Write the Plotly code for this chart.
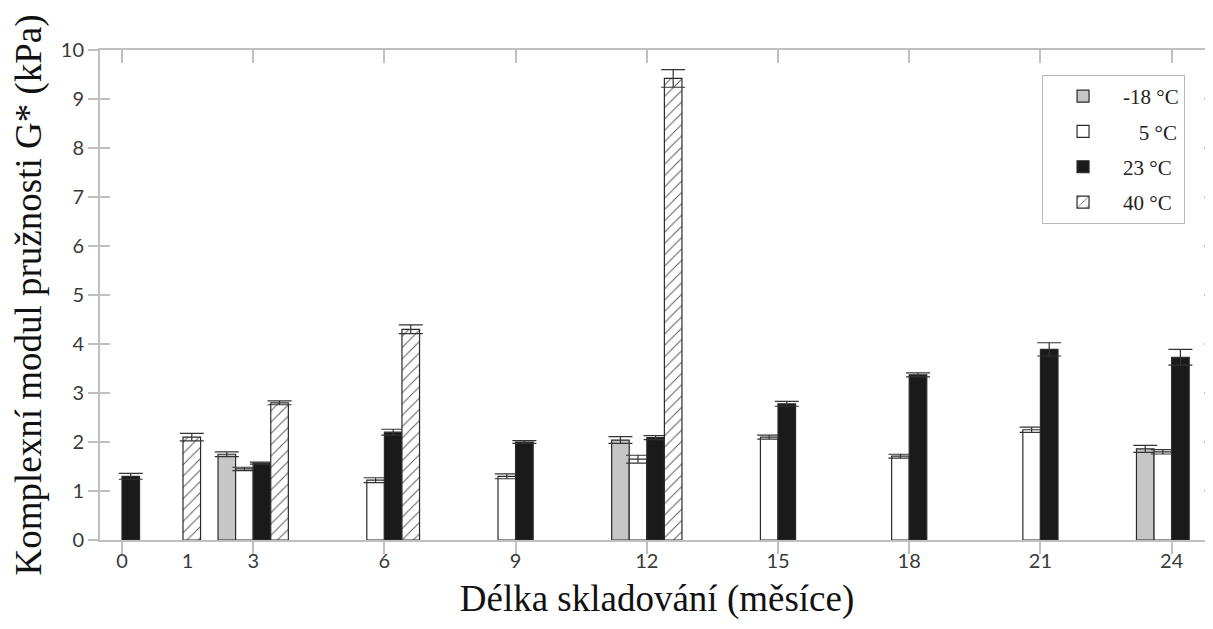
import plotly.graph_objects as go

# ---- data ----
months = ["0", "1", "3", "6", "9", "12", "15", "18", "21", "24"]
series_names = ["-18 °C", "\u00a0\u00a0\u00a05 °C", "23 °C", "40 °C"]

g_m18 = [None, None, 1.75, None, None, 2.04, None, None, None, 1.86]
e_m18 = [0, 0, 0.05, 0, 0, 0.07, 0, 0, 0, 0.07]
g_5 = [None, None, 1.45, 1.22, 1.30, 1.65, 2.10, 1.71, 2.25, 1.80]
e_5 = [0, 0, 0.035, 0.05, 0.05, 0.08, 0.04, 0.04, 0.055, 0.045]
g_23 = [1.30, None, 1.57, 2.20, 2.00, 2.09, 2.78, 3.37, 3.89, 3.73]
e_23 = [0.06, 0, 0.02, 0.06, 0.03, 0.04, 0.05, 0.04, 0.135, 0.16]
g_40 = [None, 2.10, 2.80, 4.30, None, 9.42, None, None, None, None]
e_40 = [0, 0.075, 0.04, 0.09, 0, 0.18, 0, 0, 0, 0]

y_ticks = list(range(0, 11))

# ---- axis slot mapping (category slots: 0,1,3 consecutive, then every 3 months = 2 slots)
def slot(m):
    m = int(m)
    return m if m < 3 else (2 + (m - 3) / 1.5)

slots = [slot(m) for m in months]
tick_slots = [s for s, m in zip(slots, months) if m != "1"]

W = 0.268  # bar width in slot units
offsets_base = [-2 * W, -W, 0.0, W]

fills = ["#c6c6c6", "#ffffff", "#1a1a1a", "#ffffff"]
vals = [g_m18, g_5, g_23, g_40]
errs = [e_m18, e_5, e_23, e_40]

fig = go.Figure()
for i, (name, v, e, col) in enumerate(zip(series_names, vals, errs, fills)):
    offs = [offsets_base[i]] * len(months)
    if i == 3:
        # the single 40 °C bar at month 1 sits almost centred on its label
        offs = [(-0.07 if m == "1" else offsets_base[i]) for m in months]
    marker = dict(color=col, line=dict(color="#2b2b2b", width=1.2))
    if i == 3:
        marker["pattern"] = dict(shape="/", fgcolor="#5a5a5a", bgcolor="#ffffff",
                                 size=8, solidity=0.12, fillmode="replace")
    fig.add_trace(go.Bar(
        x=slots, y=v, name=name, legendgroup=f"g{i}", width=W, offset=offs,
        marker=marker,
        error_y=dict(type="data", array=e, visible=True, color="#333333",
                     thickness=1.2, width=12),
        hoverinfo="y",
    ))

# empty helper traces so that the overlay tick-mark axes are drawn
fig.add_trace(go.Scatter(x=[], y=[], xaxis="x2", yaxis="y2", showlegend=False))
fig.add_trace(go.Scatter(x=[], y=[], xaxis="x3", yaxis="y", showlegend=False))

xr = [-0.335, 16.646]
yr = [0, 10]
axis_col = "#c0c0c0"
tick_font = dict(family="Lato, Carlito, Liberation Sans, sans-serif", size=20, color="#3a3a3a")
title_font = dict(family="Liberation Serif, Times New Roman, serif", size=37, color="#111111")

# the page body adds an 8px offset, so margins are shifted accordingly
fig.update_layout(
    width=1213, height=629,
    margin=dict(l=92, r=7, t=42, b=97, autoexpand=False),
    paper_bgcolor="white", plot_bgcolor="white",
    barmode="overlay",
    showlegend=True,
    legend=dict(
        x=0.974, xanchor="right", y=0.949, yanchor="top",
        bgcolor="white", bordercolor="#b8b8b8", borderwidth=1,
        font=dict(family="Liberation Serif, Times New Roman, serif", size=21, color="#222222"),
        tracegroupgap=5, itemwidth=70,
    ),
    xaxis=dict(
        range=xr, tickmode="array", tickvals=slots, ticktext=months,
        ticks="", showgrid=False, zeroline=False, automargin=False,
        showline=True, linecolor=axis_col, linewidth=2, mirror=True,
        tickfont=tick_font, ticklabelstandoff=2,
        title=dict(text="Délka skladování (měsíce)", font=title_font, standoff=14),
    ),
    xaxis2=dict(
        overlaying="x", side="bottom", anchor="y", range=xr, automargin=False,
        tickmode="array", tickvals=tick_slots, showticklabels=False,
        ticks="outside", ticklen=13, tickwidth=1.5, tickcolor=axis_col,
        showgrid=False, zeroline=False, showline=False,
    ),
    xaxis3=dict(
        overlaying="x", side="top", anchor="y", range=xr, automargin=False,
        tickmode="array", tickvals=tick_slots, showticklabels=False,
        ticks="inside", ticklen=13, tickwidth=1.5, tickcolor=axis_col,
        showgrid=False, zeroline=False, showline=False,
    ),
    yaxis=dict(
        range=yr, tickmode="array", tickvals=y_ticks, automargin=False,
        ticks="outside", ticklen=10, tickwidth=1.5, tickcolor=axis_col,
        showgrid=False, zeroline=False,
        showline=True, linecolor=axis_col, linewidth=2, mirror=True,
        tickfont=tick_font,
        title=dict(text="Komplexní modul pružnosti G* (kPa)", font=title_font, standoff=8),
    ),
    yaxis2=dict(
        overlaying="y", side="left", anchor="x", range=yr, automargin=False,
        tickmode="array", tickvals=y_ticks, showticklabels=False,
        ticks="inside", ticklen=10, tickwidth=1.5, tickcolor=axis_col,
        mirror="ticks", showline=False, showgrid=False, zeroline=False,
    ),
)

fig.write_html("out.html")
